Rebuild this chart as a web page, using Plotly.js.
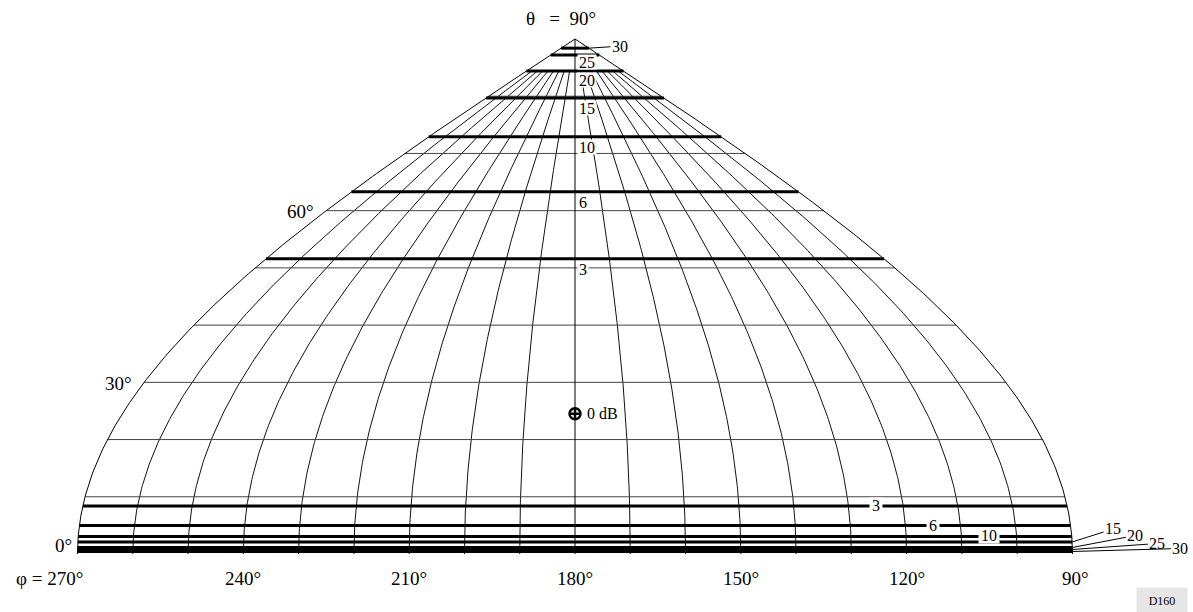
<!DOCTYPE html>
<html><head><meta charset="utf-8">
<script src="https://cdn.plot.ly/plotly-3.0.1.min.js"></script>
<style>html,body{margin:0;padding:0;background:#fff}#chart{width:1193px;height:612px}</style>
</head><body><div id="chart"></div>
<script>
// ---- data (degrees / dB) ----
const phiTicks = [270, 240, 210, 180, 150, 120, 90];
const thetaTickLabels = [0, 30, 60];
const thetaApex = 90;
const meridianPhi = [260, 250, 240, 230, 220, 210, 200, 190, 170, 160, 150, 140, 130, 120, 110, 100];
const boundaryPhi = [270, 90];
const centralPhi = 180;
const parallelTheta = [10, 20, 30, 40, 50, 60, 70, 80];
const meridianEndTheta = 84.4;
const dbLevels = [3, 6, 10, 15, 20, 25, 30];
const dbThetaUpper = [51.6, 63.3, 72.9, 79.7, 84.4, 87.2, 88.4];
const dbThetaLower = [8.4, 5.0, 3.05, 2.1, 1.14, 0.79, 0.44];
const peakPhi = 180;
const peakTheta = 24.5;
const peakLabel = '0 dB';
const figureCode = 'D160';

// ---- projection (sinusoidal: x = (180 - phi) cos(theta), y = theta) ----
const rad = d => d * Math.PI / 180;
const projX = (phi, th) => (180 - phi) * Math.cos(rad(th));

function curve(phi, th0, th1) {
  const xs = [], ys = [];
  for (let t = th0; t < th1; t += 0.5) { xs.push(projX(phi, t)); ys.push(t); }
  xs.push(projX(phi, th1)); ys.push(th1);
  return [xs, ys];
}

const FONT = 'Liberation Serif, Times New Roman, serif';
const traces = [];

// meridians
{
  const xs = [], ys = [];
  meridianPhi.forEach(p => { const [a, b] = curve(p, 0, meridianEndTheta); xs.push(...a, null); ys.push(...b, null); });
  traces.push({x: xs, y: ys, mode: 'lines', line: {color: '#111', width: 1}, hoverinfo: 'skip'});
}
// parallels
{
  const xs = [], ys = [];
  parallelTheta.forEach(t => { xs.push(projX(boundaryPhi[0], t), projX(boundaryPhi[1], t), null); ys.push(t, t, null); });
  traces.push({x: xs, y: ys, mode: 'lines', line: {color: '#444', width: 1}, hoverinfo: 'skip'});
}
// boundary + central meridian
{
  const xs = [], ys = [];
  boundaryPhi.forEach(p => { const [a, b] = curve(p, 0, thetaApex); xs.push(...a, null); ys.push(...b, null); });
  xs.push(projX(centralPhi, 0), projX(centralPhi, thetaApex)); ys.push(0, thetaApex);
  traces.push({x: xs, y: ys, mode: 'lines', line: {color: '#000', width: 1}, hoverinfo: 'skip'});
}
// dB contour lines (thick)
{
  const xs = [], ys = [];
  dbThetaUpper.concat(dbThetaLower).forEach(t => { xs.push(projX(boundaryPhi[0], t), projX(boundaryPhi[1], t), null); ys.push(t, t, null); });
  traces.push({x: xs, y: ys, mode: 'lines', line: {color: '#000', width: 3}, hoverinfo: 'skip'});
}
// peak
traces.push({x: [projX(peakPhi, peakTheta)], y: [peakTheta], mode: 'markers',
  marker: {symbol: 'circle-cross-open', size: 11, color: '#000', line: {width: 2.5, color: '#000'}}, hoverinfo: 'skip'});

// ---- annotations ----
const ann = [];
const txt = (s, size) => ({color: '#000', family: FONT, size: size});

// phi tick labels
phiTicks.forEach((p, i) => {
  const first = i === 0;
  ann.push({x: projX(p, 0), y: 0, text: (first ? 'φ\u00a0=\u00a0' : '') + p + '°', showarrow: false,
    xanchor: first ? 'right' : 'center', yanchor: 'middle', xshift: first ? 7 : (p === 90 ? 3 : 0), yshift: -24, font: txt('', 19)});
});
// theta labels on left boundary
thetaTickLabels.forEach(t => {
  ann.push({x: projX(boundaryPhi[0], t), y: t, text: t + '°', showarrow: false, xanchor: 'right', yanchor: 'middle',
    xshift: t === 0 ? -4 : -10, yshift: t === 0 ? 9 : -1, font: txt('', 19)});
});
ann.push({x: projX(centralPhi, thetaApex), y: thetaApex, text: 'θ\u00a0\u00a0\u00a0=\u00a0\u00a090°', showarrow: false,
  xanchor: 'right', yanchor: 'middle', xshift: 23, yshift: 21, font: txt('', 19)});

// upper dB labels (below each line, right of centre line)
const upperLabelDrop = {3: -10, 6: -10, 10: -10, 15: -10, 20: -9, 25: -7};
dbLevels.forEach((d, i) => {
  if (d === 30) {
    ann.push({x: projX(boundaryPhi[1], dbThetaUpper[i]), y: dbThetaUpper[i], text: String(d), showarrow: true,
      arrowhead: 0, arrowwidth: 1, arrowcolor: '#000', standoff: 0, ax: 31, ay: -2, font: txt('', 16)});
  } else {
    ann.push({x: projX(centralPhi, dbThetaUpper[i]), y: dbThetaUpper[i], text: String(d), showarrow: false,
      xanchor: 'left', yanchor: 'middle', xshift: 2, yshift: upperLabelDrop[d], bgcolor: '#fff', height: 12, borderpad: 1, font: txt('', 16)});
  }
});
// lower dB labels
const lowerInlinePhi = [125, 115, 105];
const lowerLeader = [[41, -13], [63, -12], [85, -6], [108, -3]];
dbLevels.forEach((d, i) => {
  const t = dbThetaLower[i];
  if (i < 3) {
    ann.push({x: projX(lowerInlinePhi[i], t), y: t, text: String(d), showarrow: false, xanchor: 'center', yanchor: 'middle',
      yshift: d === 10 ? 1 : 0, bgcolor: '#fff', height: 11, borderpad: 2, font: txt('', 16)});
  } else {
    const [ax, ay] = lowerLeader[i - 3];
    ann.push({x: projX(boundaryPhi[1], t), y: t, text: String(d), showarrow: true, arrowhead: 0, arrowwidth: 1,
      arrowcolor: '#000', standoff: 0, ax: ax, ay: ay, font: txt('', 16)});
  }
});
// peak label
ann.push({x: projX(peakPhi, peakTheta), y: peakTheta, text: peakLabel, showarrow: false, xanchor: 'left', yanchor: 'middle',
  xshift: 10, font: txt('', 16)});
// figure code
ann.push({xref: 'paper', yref: 'paper', x: 1162 / 1193, y: 1 - 600 / 612, text: figureCode, showarrow: false,
  xanchor: 'center', yanchor: 'middle', bgcolor: '#e6e6e6', width: 48, height: 23, font: txt('', 12)});

const layout = {
  width: 1193, height: 612,
  margin: {l: 0, r: 0, t: 0, b: 0, pad: 0},
  paper_bgcolor: '#fff', plot_bgcolor: '#fff',
  showlegend: false,
  xaxis: {range: [-104.02, 111.80], visible: false, fixedrange: true},
  yaxis: {range: [-10.136, 96.816], visible: false, fixedrange: true},
  annotations: ann
};
Plotly.newPlot('chart', traces, layout, {staticPlot: true, displayModeBar: false});
</script>
</body></html>
